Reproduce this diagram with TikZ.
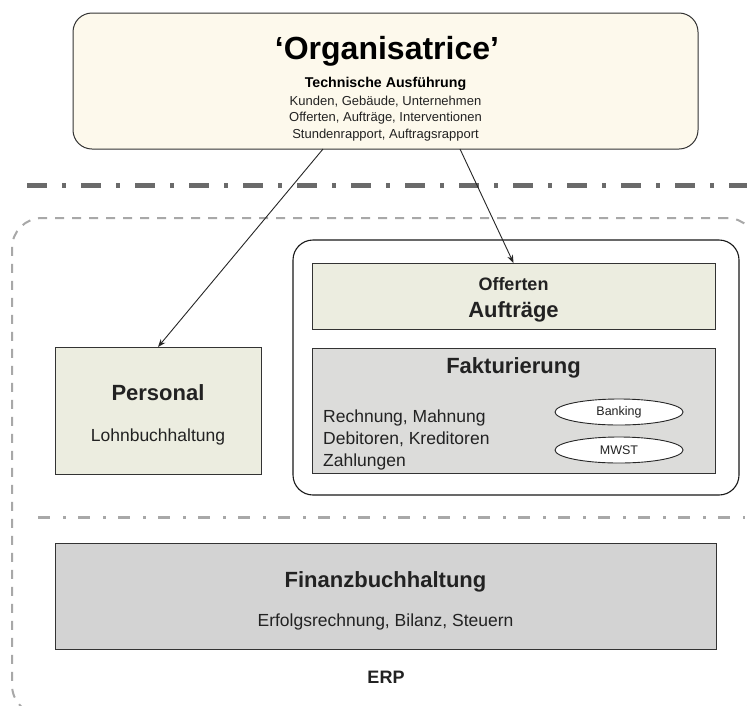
\documentclass[tikz,border=0pt]{standalone}
\usepackage{fontspec}
\setmainfont{Liberation Sans}
\usetikzlibrary{arrows.meta,shapes.geometric}
\definecolor{cream}{HTML}{FDF9EC}
\definecolor{olivel}{HTML}{ECEDE0}
\definecolor{grayf}{HTML}{DCDCDA}
\definecolor{grayb}{HTML}{D3D3D3}
\definecolor{ddark}{HTML}{6A6A6A}
\definecolor{dlight}{HTML}{A8A8A8}
\definecolor{txt}{HTML}{222222}
\newcommand\fsz[1]{\fontsize{#1}{#1}\selectfont}
\begin{document}
\begin{tikzpicture}[x=1pt,y=-1pt,
  boxbase/.style={draw=black!80, line width=1pt, inner sep=0pt, outer sep=0pt},
  lbl/.style={anchor=base, inner sep=0pt, text=txt},
  arr/.style={draw=black!85, line width=0.9pt, -{Stealth[length=8pt,width=6pt]}},
  oval/.style={ellipse, draw=black!85, line width=0.9pt, fill=white, minimum width=128pt, minimum height=26pt, inner sep=0pt, font=\fsz{12.5}, text=txt}
]
\clip (0,0) rectangle (747,705);
\fill[white] (0,0) rectangle (747,705);

% ERP container
\node[draw=dlight, line width=2pt, dash pattern=on 9pt off 8pt, rounded corners=30pt,
      minimum width=745pt, minimum height=497pt, inner sep=0pt] (erp) at (384.5,466.5) {};
\node[lbl, font=\bfseries\fsz{18}] (erplbl) at (386,683) {ERP};

% separator lines
\draw[ddark, line width=5pt, dash pattern=on 20pt off 15pt on 4pt off 15pt] (27,185) -- (760,185);
\draw[dlight, line width=3pt, dash pattern=on 12pt off 13pt on 3pt off 12pt] (38,517) -- (745,517);

% Organisatrice
\node[boxbase, fill=cream, rounded corners=19pt, minimum width=625pt, minimum height=136pt] (org) at (385.5,81) {};
\node[lbl, font=\bfseries\fsz{32}, text=black] (orgt) at (387,59) {‘Organisatrice’};
\node[lbl, font=\bfseries\fsz{14.2}, text=black] (orgs) at (385.5,87) {Technische Ausführung};
\node[lbl, font=\fsz{13}] (orgl1) at (385.5,105) {Kunden, Gebäude, Unternehmen};
\node[lbl, font=\fsz{13}] (orgl2) at (385.5,121.5) {Offerten, Aufträge, Interventionen};
\node[lbl, font=\fsz{13}] (orgl3) at (385.5,138) {Stundenrapport, Auftragsrapport};

% inner container
\node[draw=black!90, line width=1.1pt, rounded corners=20pt, minimum width=446pt, minimum height=255pt, inner sep=0pt] (inner) at (516,367.5) {};

% Offerten / Auftraege
\node[boxbase, fill=olivel, minimum width=403pt, minimum height=66pt] (off) at (513.5,296) {};
\node[lbl, font=\bfseries\fsz{18}] (offt) at (513.5,290) {Offerten};
\node[lbl, font=\bfseries\fsz{22}] (offa) at (513.5,317) {Aufträge};

% Fakturierung
\node[boxbase, fill=grayf, minimum width=403pt, minimum height=125pt] (fak) at (513.5,410.5) {};
\node[lbl, font=\bfseries\fsz{22}] (fakt) at (513.5,373) {Fakturierung};
\node[lbl, anchor=base west, font=\fsz{17.5}] (fak1) at (323,422) {Rechnung, Mahnung};
\node[lbl, anchor=base west, font=\fsz{17.5}] (fak2) at (323,444) {Debitoren, Kreditoren};
\node[lbl, anchor=base west, font=\fsz{17.5}] (fak3) at (323,466) {Zahlungen};
\node[oval] (bank) at (619,412) {Banking};
\node[oval] (mwst) at (619,450) {MWST};

% Personal
\node[boxbase, fill=olivel, minimum width=206pt, minimum height=127pt] (pers) at (158,410.5) {};
\node[lbl, font=\bfseries\fsz{22}] (perst) at (158,400) {Personal};
\node[lbl, font=\fsz{17.5}] (persl) at (158,441) {Lohnbuchhaltung};

% Finanzbuchhaltung
\node[boxbase, fill=grayb, minimum width=661pt, minimum height=106pt] (fin) at (385.5,596) {};
\node[lbl, font=\bfseries\fsz{22}] (fint) at (385.5,587) {Finanzbuchhaltung};
\node[lbl, font=\fsz{17.5}] (finl) at (385.5,626) {Erfolgsrechnung, Bilanz, Steuern};

% arrows
\coordinate (a1) at (323,149);
\coordinate (a2) at (460,149);
\draw[arr] (a1) -- (pers.north);
\draw[arr] (a2) -- (off.north);
\end{tikzpicture}
\end{document}
